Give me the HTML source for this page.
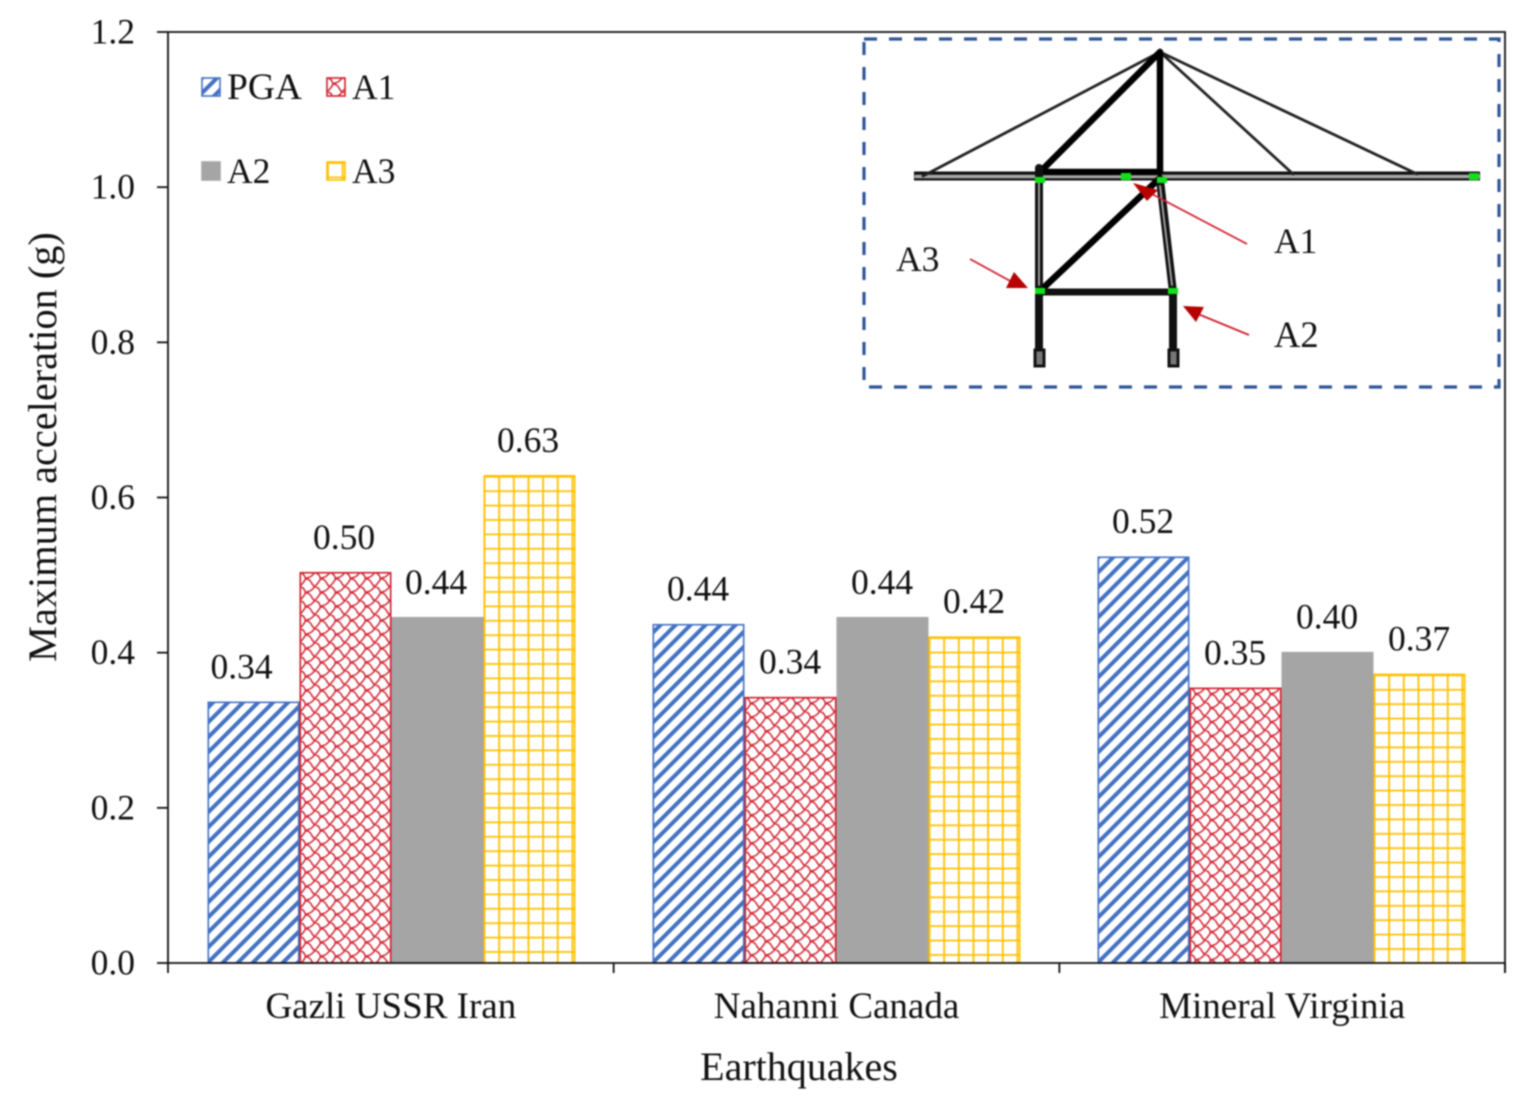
<!DOCTYPE html>
<html lang="en">
<head>
<meta charset="utf-8">
<title>Maximum acceleration by earthquake</title>
<style>
html,body{margin:0;padding:0;background:#fff;width:1526px;height:1106px;overflow:hidden}
svg{display:block;filter:blur(0.7px)}
text{font-family:"Liberation Serif",serif;fill:#111}
</style>
</head>
<body>
<svg id="chart" xmlns="http://www.w3.org/2000/svg" width="1526" height="1106" viewBox="0 0 1526 1106">
  <defs>
    <pattern id="tpl-pga" width="15" height="15" patternUnits="userSpaceOnUse">
      <path d="M-4 4 L4 -4 M-4 19 L19 -4 M11 19 L19 11" stroke="#4472c4" stroke-width="4" fill="none"/>
    </pattern>
    <pattern id="tpl-a1" width="15" height="14" patternUnits="userSpaceOnUse">
      <path d="M0 0 C3 0 5 2 6 6 C9 6 11 8 12 10 C13 12 14 13 15 14 M15 0 C14 2 12 3 11 4 C9 5 7 5 6 6 M6 6 C5 9 3 11 0 14" stroke="#d0202e" stroke-width="1.5" fill="none"/>
    </pattern>
    <pattern id="tpl-a3" width="14.65" height="14.4" patternUnits="userSpaceOnUse">
      <path d="M1 0 V14.4 M0 1 H14.65" stroke="#ffc000" stroke-width="1.8" fill="none"/>
    </pattern>
  </defs>
  <g id="bars"></g>
  <g id="axes"></g>
  <g id="legend"></g>

  <g>
    <rect x="864" y="39" width="635" height="348" fill="none" stroke="#2f5597" stroke-width="3.2" stroke-dasharray="13 12"/>
    <g fill="none" stroke-linecap="round">
      <path d="M914 176 H1480" stroke="#111" stroke-width="9" stroke-linecap="butt"/>
      <path d="M916 176.500 H1479" stroke="#a8a8a8" stroke-width="3.5"/>
      <path d="M923 176 L1160 52 M1160 52 L1293 174 M1160 52 L1417 174" stroke="#222" stroke-width="2.8"/>
      <path d="M1040 172 L1160 52 M1160 52 V172 M1040 172 H1160 M1039 292 L1160 178" stroke="#000" stroke-width="6.5"/>
      <path d="M1039 292 H1173" stroke="#111" stroke-width="7"/>
      <path d="M1039 168 V350 M1160 180 L1173 292 V350" stroke="#111" stroke-width="8"/>
      <path d="M1039 182 V285 M1160 186 L1172 285" stroke="#aaa" stroke-width="1.8"/>
      <rect x="1035" y="350" width="9" height="16" stroke="#111" stroke-width="3" fill="#777"/>
      <rect x="1169" y="350" width="9" height="16" stroke="#111" stroke-width="3" fill="#777"/>
    </g>
    <g fill="#12e01a">
      <rect x="1035" y="177" width="10" height="6"/>
      <rect x="1121" y="173" width="10" height="7"/>
      <rect x="1157" y="177" width="10" height="6"/>
      <rect x="1035" y="288" width="10" height="6"/>
      <rect x="1168" y="288" width="10" height="6"/>
      <rect x="1469" y="173" width="10" height="7"/>
    </g>
    <g>
      <path d="M1247 244 L1150 193" stroke="#d02030" stroke-width="1.8"/>
      <path d="M1133 183 L1158 190 L1147 201 Z" fill="#b80000"/>
      <path d="M970 259 L1012 282" stroke="#d02030" stroke-width="1.8"/>
      <path d="M1028 288 L1006 288 L1014 272 Z" fill="#b80000"/>
      <path d="M1249 335 L1198 314" stroke="#d02030" stroke-width="1.8"/>
      <path d="M1183 306 L1204 307 L1196 322 Z" fill="#b80000"/>
    </g>
    <text x="1274" y="253" font-size="35.500">A1</text>
    <text x="896" y="271" font-size="35.500">A3</text>
    <text x="1274" y="347" font-size="36.500">A2</text>
  </g>
</svg>
<script>
const categories = ['Gazli USSR Iran', 'Nahanni Canada', 'Mineral Virginia'];
const seriesNames = ['PGA', 'A1', 'A2', 'A3'];
const pgaValues = [0.336, 0.436, 0.523];
const a1Values = [0.503, 0.342, 0.354];
const a2Values = [0.445, 0.445, 0.400];
const a3Values = [0.628, 0.420, 0.372];
const pgaLabels = ['0.34', '0.44', '0.52'];
const a1Labels = ['0.50', '0.34', '0.35'];
const a2Labels = ['0.44', '0.44', '0.40'];
const a3Labels = ['0.63', '0.42', '0.37'];
const yTickLabels = ['0.0', '0.2', '0.4', '0.6', '0.8', '1.0', '1.2'];
const yTickValues = [0, 0.2, 0.4, 0.6, 0.8, 1.0, 1.2];

const NS = 'http://www.w3.org/2000/svg';
const plot = { left: 168, right: 1505, top: 32, bottom: 963 };
const yMax = 1.2;
const groupWidth = (plot.right - plot.left) / categories.length;
const barStep = 445;
const barWidth = 92;
const groupPad = 39.5;
const seriesValues = [pgaValues, a1Values, a2Values, a3Values];
const seriesLabels = [pgaLabels, a1Labels, a2Labels, a3Labels];
const seriesStroke = ['#4472c4', '#d0202e', '#a5a5a5', '#ffc000'];
const seriesTemplate = ['tpl-pga', 'tpl-a1', null, 'tpl-a3'];
const svg = document.getElementById('chart');
const defs = svg.querySelector('defs');
const barsG = document.getElementById('bars');
const axesG = document.getElementById('axes');
const legendG = document.getElementById('legend');

function yScale(v) { return plot.bottom - (v / yMax) * (plot.bottom - plot.top); }
function xScale(g, s) { return plot.left + g * barStep + groupPad + s * barWidth; }
function make(tag, parent) {
  const el = document.createElementNS(NS, tag);
  parent.appendChild(el);
  return el;
}
function setAll(el, pairs) {
  Object.keys(pairs).forEach(function (k) { el.setAttribute(k, pairs[k]); });
}
let patternCount = 0;
function fillFor(s, x, y) {
  if (!seriesTemplate[s]) return seriesStroke[s];
  const clone = document.getElementById(seriesTemplate[s]).cloneNode(true);
  patternCount += 1;
  clone.id = 'p' + patternCount;
  clone.setAttribute('patternTransform', 'translate(' + x + ' ' + y + ')');
  defs.appendChild(clone);
  return 'url(#' + clone.id + ')';
}

/* bars and value labels */
categories.forEach(function (cat, g) {
  seriesNames.forEach(function (name, s) {
    const v = seriesValues[s][g];
    const x = xScale(g, s);
    const y = yScale(v);
    const anchorY = s === 0 ? plot.bottom : y;
    const r = make('rect', barsG);
    setAll(r, { x: x + 0.8, y: y, width: barWidth - 1.6, height: plot.bottom - y,
      fill: fillFor(s, x, anchorY), stroke: seriesStroke[s], 'stroke-width': 1.6 });
    
    
    const t = make('text', barsG);
    const nudge = (g === 0 && s === 0) ? -12 : (g === 0 ? -1.5 : -0.5);
    setAll(t, { x: x + barWidth / 2 + nudge, y: y - 24, 'font-size': 35.5, 'text-anchor': 'middle' });
    t.textContent = seriesLabels[s][g];
    
    
  });
});

/* axes */
const frame = make('path', axesG);
setAll(frame, { d: 'M' + plot.left + ' ' + plot.bottom + ' V' + plot.top + ' H' + plot.right + ' V' + (plot.bottom + 10) +
  ' M' + plot.left + ' ' + plot.bottom + ' H' + plot.right, fill: 'none', stroke: '#111', 'stroke-width': 1.8 });



yTickValues.forEach(function (v, i) {
  const y = yScale(v);
  const tick = make('line', axesG);
  setAll(tick, { x1: plot.left - 11, x2: plot.left, y1: y, y2: y, stroke: '#111', 'stroke-width': 1.8 });
  
  
  const t = make('text', axesG);
  setAll(t, { x: 135, y: y + 11.5, 'font-size': 35.5, 'text-anchor': 'end' });
  t.textContent = yTickLabels[i];
  
  
});

for (let g = 0; g <= categories.length; g++) {
  const x = plot.left + g * groupWidth;
  const tick = make('line', axesG);
  setAll(tick, { x1: x, x2: x, y1: plot.bottom, y2: plot.bottom + 10, stroke: '#111', 'stroke-width': 1.8 });
  
  
}
categories.forEach(function (cat, g) {
  const t = make('text', axesG);
  setAll(t, { x: plot.left + (g + 0.5) * groupWidth, y: 1018, 'font-size': 37, 'text-anchor': 'middle' });
  t.textContent = cat;
  
  
});

const xTitle = make('text', axesG);
setAll(xTitle, { x: 799, y: 1080, 'font-size': 40, 'text-anchor': 'middle' });
xTitle.textContent = 'Earthquakes';



const yTitle = make('text', axesG);
setAll(yTitle, { x: 0, y: 0, 'font-size': 40.3, 'text-anchor': 'middle', transform: 'translate(56 447) rotate(-90)' });
yTitle.textContent = 'Maximum acceleration (g)';



/* legend */
seriesNames.forEach(function (name, s) {
  const col = s % 2;
  const row = Math.floor(s / 2);
  const sx = 202 + col * 125;
  const sy = 78 + row * 84;
  const box = make('rect', legendG);
  setAll(box, { x: sx, y: sy, width: 18, height: 18, fill: fillFor(s, sx, sy),
    stroke: seriesStroke[s], 'stroke-width': 1.6 });
  
  
  const t = make('text', legendG);
  setAll(t, { x: sx + 25, y: sy + 21, 'font-size': s === 0 ? 37.5 : 35.5 });
  t.textContent = name;
  
  
});
</script>
</body>
</html>
